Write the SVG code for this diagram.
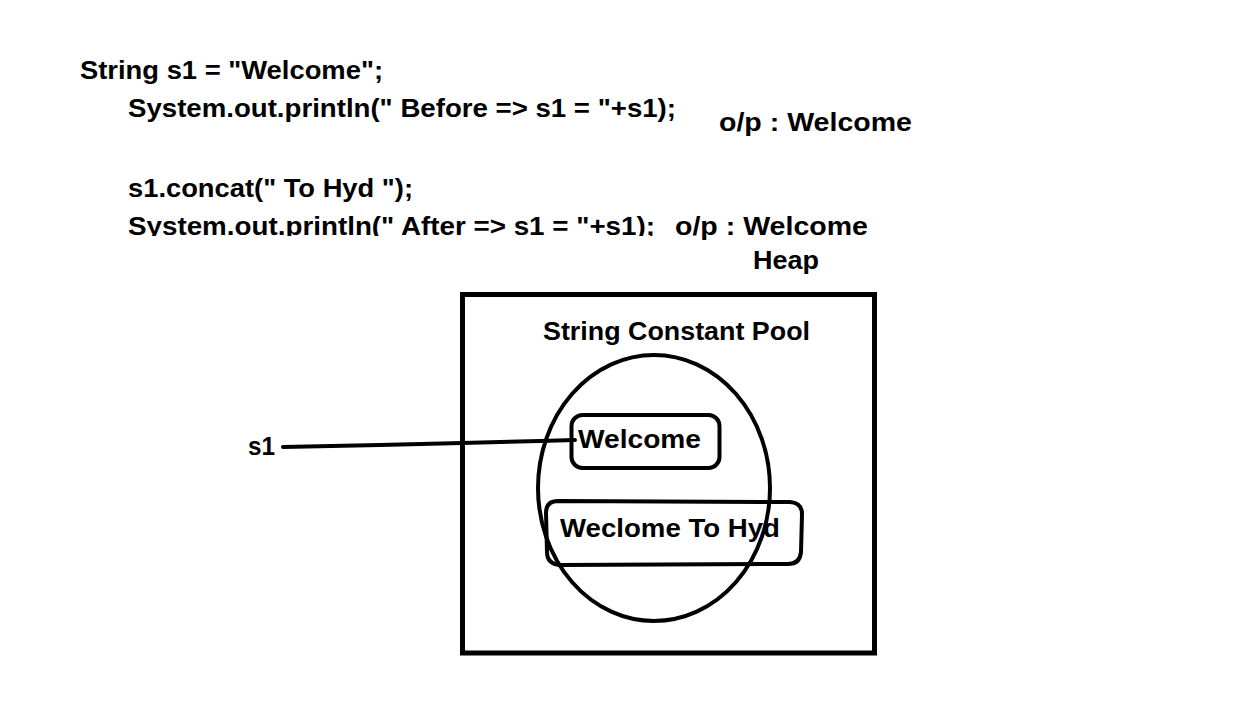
<svg xmlns="http://www.w3.org/2000/svg" width="1238" height="727" viewBox="0 0 1238 727">
<style>
text{font-family:"Liberation Sans","Open Sans",sans-serif;font-weight:bold;font-size:26px;fill:#000}
.ln{fill:none;stroke:#000;stroke-width:4;stroke-linejoin:round;stroke-linecap:round}
</style>
<defs>
<clipPath id="clipTop"><rect x="0" y="0" width="1238" height="236"/></clipPath>
</defs>
<rect x="0" y="0" width="1238" height="727" fill="#fff"/>
<g id="code">
<text x="80" y="79" textLength="303" lengthAdjust="spacingAndGlyphs">String s1 = "Welcome";</text>
<text x="128" y="117" textLength="548" lengthAdjust="spacingAndGlyphs">System.out.println(" Before =&gt; s1 = "+s1);</text>
<text x="719" y="131" textLength="193" lengthAdjust="spacingAndGlyphs">o/p : Welcome</text>
<text x="128" y="197" textLength="285" lengthAdjust="spacingAndGlyphs">s1.concat(" To Hyd ");</text>
<text x="128" y="235" textLength="527" lengthAdjust="spacingAndGlyphs" clip-path="url(#clipTop)">System.out.println(" After =&gt; s1 = "+s1);</text>
<text x="675" y="235" textLength="193" lengthAdjust="spacingAndGlyphs">o/p : Welcome</text>
</g>
<g id="heap">
<rect x="462.5" y="294.5" width="412" height="358.5" fill="none" stroke="#000" stroke-width="5"/>
<text x="753" y="269" textLength="66" lengthAdjust="spacingAndGlyphs">Heap</text>
</g>
<g id="pool">
<ellipse class="ln" cx="654" cy="488" rx="116" ry="133"/>
<text x="543" y="340" textLength="267" lengthAdjust="spacingAndGlyphs">String Constant Pool</text>
</g>
<g id="s1">
<text x="248" y="455" textLength="27" lengthAdjust="spacingAndGlyphs">s1</text>
</g>
<g id="welcome">
<rect class="ln" x="571.5" y="415" width="148" height="53" rx="11"/>
<text x="578" y="448" textLength="123" lengthAdjust="spacingAndGlyphs">Welcome</text>
</g>
<g id="welcomeToHyd">
<path class="ln" d="M558,501 L790,502 Q802,503 802,514 L801,552 Q800,564 788,564 L560,565 Q547,564 547,552 L546,513 Q546,501 558,501 Z"/>
<text x="560" y="537" textLength="220" lengthAdjust="spacingAndGlyphs">Weclome To Hyd</text>
</g>
<g id="connectors">
<polyline class="ln" points="283,447 380,445 462,443 540,441 575,440"/>
</g>
</svg>
